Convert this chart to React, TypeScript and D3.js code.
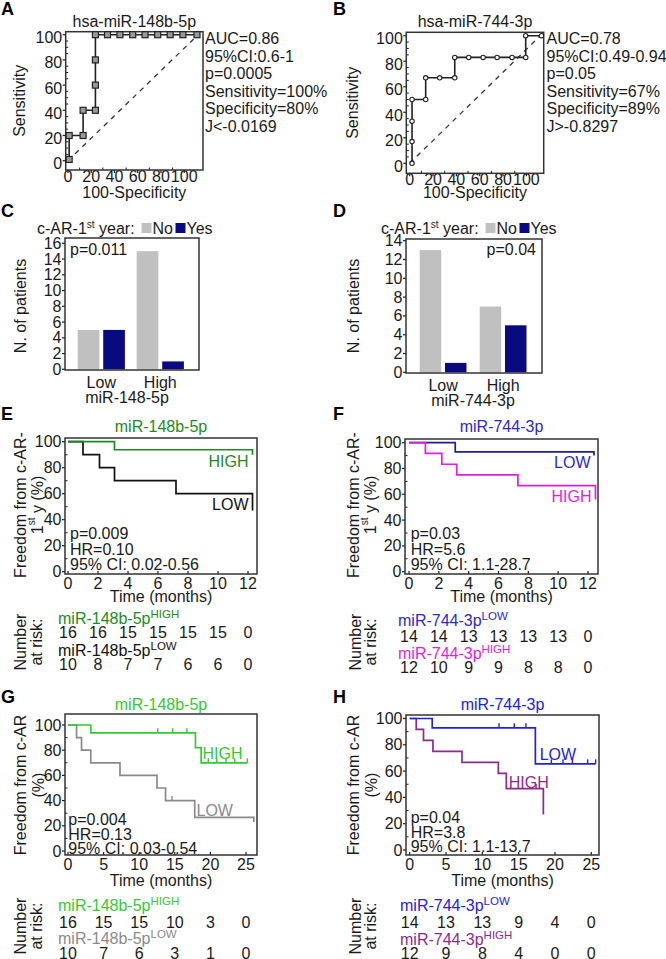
import React from "react";
import * as d3 from "d3";

const FONT = "'Liberation Sans', Arial, Helvetica, sans-serif";
const INK = "#1a1a1a";

// ---------- ROC curves (A, B) ----------
const rocTicks = [0, 20, 40, 60, 80, 100];
const rocMinorY = [5, 10, 15, 25, 30, 35, 45, 50, 55, 65, 70, 75, 85, 90, 95];
const rocMinorX = [10, 30, 50, 70, 90];
const rocDiag = [[0, 0], [112, 100]];
const rocAX = [1, 1, 13, 13, 23.6, 23.6, 23.6, 23.6, 34, 44.7, 55.7, 66.3, 77.2, 87.9, 98.9, 111];
const rocAY = [1, 20, 20, 40, 40, 60, 80, 100, 100, 100, 100, 100, 100, 100, 100, 100];
const rocAStats = ["AUC=0.86", "95%CI:0.6-1", "p=0.0005", "Sensitivity=100%", "Specificity=80%", "J<-0.0169"];
const rocBX = [2, 2, 2, 2, 13.7, 13.7, 25.7, 38.6, 38.6, 50.6, 62.9, 74.9, 87.7, 99.4, 99.4, 112.9];
const rocBY = [0, 17, 33, 50, 50, 67, 67, 67, 83, 83, 83, 83, 83, 83, 100, 100];
const rocBStats = ["AUC=0.78", "95%CI:0.49-0.94", "p=0.05", "Sensitivity=67%", "Specificity=89%", "J>-0.8297"];

// ---------- bar charts (C, D) ----------
const barGroups = ["Low", "High"];
const barKeys = ["No", "Yes"];
const barColors = ["#c0c0c0", "#0a0a80"];
const barCNo = [5, 15];
const barCYes = [5, 1];
const barDNo = [13, 7];
const barDYes = [1, 5];
const barCTicks = [0, 2, 4, 6, 8, 10, 12, 14, 16];
const barDTicks = [0, 2, 4, 6, 8, 10, 12, 14];

// ---------- Kaplan-Meier (E-H) ----------
const kmYTicks = [0, 20, 40, 60, 80, 100];
const kmYMinor = [10, 30, 50, 70, 90];
const kmTicks12 = [0, 2, 4, 6, 8, 10, 12];
const kmTicks25 = [0, 5, 10, 15, 20, 25];

const eHighT = [0, 3.1, 12.3];
const eHighS = [100, 93.8, 90];
const eLowT = [0, 1.0, 2.1, 3.1, 7.2, 12.3];
const eLowS = [100, 90, 80, 70, 60, 47];
const eRiskHigh = [16, 16, 15, 15, 15, 15, 0];
const eRiskLow = [10, 8, 7, 7, 6, 6, 0];

const fLowT = [0, 3.1, 12.4];
const fLowS = [100, 92.9, 90];
const fHighT = [0, 1.1, 2.2, 3.2, 7.3, 12.5];
const fHighS = [100, 91.7, 83.3, 75, 66.7, 56];
const fRiskLow = [14, 14, 13, 13, 13, 13, 0];
const fRiskHigh = [12, 10, 9, 9, 8, 8, 0];

const gHighT = [0, 3.2, 17.9, 18.7, 25.2];
const gHighS = [100, 93.8, 82, 70, 70];
const gHighCens = [12.6, 14.7, 16.7, 19.7, 20.9, 22.2, 23.4, 25.2];
const gLowT = [0, 1.2, 1.9, 3.2, 7.3, 12.5, 13.7, 17.8, 26.1];
const gLowS = [100, 90, 80, 70, 60, 50, 40, 26.7, 23];
const gLowCens = [14.6];
const gRiskHigh = [16, 15, 15, 10, 3, 0];
const gRiskLow = [10, 7, 6, 3, 1, 0];

const hLowT = [0, 3.1, 17.3, 25.6];
const hLowS = [100, 92.9, 65.5, 65.5];
const hLowCens = [12.3, 14.4, 16.0, 19.5, 21.1, 22.4, 24.5, 25.6];
const hHighT = [0, 0.9, 1.9, 3.2, 7.2, 12.2, 13.3, 18.4];
const hHighS = [100, 91.7, 83.3, 75, 66.7, 58.3, 46.7, 27];
const hHighCens = [17.4];
const hRiskLow = [14, 13, 13, 9, 4, 0];
const hRiskHigh = [12, 9, 8, 4, 0, 0];

function Letter({ x, y, c }) {
  return (
    <text x={x} y={y} fontSize={18} fontWeight="bold" fill="#000">
      {c}
    </text>
  );
}

function VLabel({ x, y, children }) {
  return (
    <text x={x} y={y} textAnchor="middle" dominantBaseline="central" transform={`rotate(-90,${x},${y})`}>
      {children}
    </text>
  );
}

function Axes({ f, x, y, xTicks, yTicks, yMinor = [], xMinor = [], yDy = 0, xDy = 13, xInner = false }) {
  return (
    <g>
      {yMinor.map((v) => (
        <line key={"ym" + v} x1={f.l} x2={f.l + 2.5} y1={y(v)} y2={y(v)} stroke={INK} strokeWidth={1} />
      ))}
      {xMinor.map((v) => (
        <line key={"xm" + v} x1={x(v)} x2={x(v)} y1={f.b} y2={f.b - 2.5} stroke={INK} strokeWidth={1} />
      ))}
      {yTicks.map((v) => (
        <g key={"y" + v}>
          <line x1={f.l - 3} x2={f.l} y1={y(v)} y2={y(v)} stroke={INK} strokeWidth={1.2} />
          <text x={f.l - 3.5} y={y(v) + yDy} textAnchor="end" dominantBaseline="central">
            {v}
          </text>
        </g>
      ))}
      {(xTicks || []).map((v) => (
        <g key={"x" + v}>
          <line x1={x(v)} x2={x(v)} y1={f.b} y2={xInner ? f.b - 3 : f.b + 3} stroke={INK} strokeWidth={1.2} />
          <text x={x(v)} y={f.b + xDy} textAnchor="middle">
            {v}
          </text>
        </g>
      ))}
      <rect x={f.l} y={f.t} width={f.r - f.l} height={f.b - f.t} fill="none" stroke="#333" strokeWidth={1.5} />
    </g>
  );
}

function RocPanel({ letter, lx, f, xr, yr, xs, ys, square, title, stats, sx, axisX }) {
  const x = d3.scaleLinear().domain([0, 100]).range(xr);
  const y = d3.scaleLinear().domain([0, 100]).range(yr);
  const pts: [number, number][] = xs.map((v, i) => [x(v), y(ys[i])]);
  const path = d3.line()(pts);
  const diag = d3.line()(rocDiag.map(([a, b]) => [x(a), y(b)] as [number, number]));
  const cx = (f.l + f.r) / 2;
  return (
    <g>
      <Letter x={lx} y={14.5} c={letter} />
      <text x={cx} y={27} textAnchor="middle">{title}</text>
      <path d={diag} stroke="#333" strokeWidth={1.3} strokeDasharray="5,5" fill="none" />
      <Axes f={f} x={x} y={y} xTicks={rocTicks} yTicks={rocTicks} yMinor={rocMinorY} xMinor={rocMinorX} yDy={3} xDy={12} />
      <path d={path} stroke="#222" strokeWidth={1.6} fill="none" />
      {pts.map(([px, py], i) =>
        square ? (
          <rect key={i} x={px - 3} y={py - 3} width={6} height={6} fill="#9a9a9a" stroke="#222" strokeWidth={1.2} />
        ) : (
          <circle key={i} cx={px} cy={py} r={2.2} fill="#fff" stroke="#222" strokeWidth={1.1} />
        )
      )}
      {stats.map((s, i) => (
        <text key={s} x={sx} y={44 + i * 17.5}>{s}</text>
      ))}
      <VLabel x={axisX} y={(f.t + f.b) / 2}>Sensitivity</VLabel>
      <text x={cx} y={198} textAnchor="middle">100-Specificity</text>
    </g>
  );
}

function BarPanel({ letter, lx, f, yr, yMax, ticks, no, yes, band, padIn, name, nameX, pText, pX, pAnchor, legX, axisX }) {
  const y = d3.scaleLinear().domain([0, yMax]).range(yr);
  const x0 = d3.scaleBand().domain(barGroups).range(band).paddingInner(padIn).paddingOuter(0.1);
  const x1 = d3.scaleBand().domain(barKeys).range([0, x0.bandwidth()]).paddingInner(0.15);
  const vals = [no, yes];
  return (
    <g>
      <Letter x={lx} y={217} c={letter} />
      <text x={legX} y={233.5}>
        c-AR-1<tspan dy={-6} fontSize={10}>st</tspan>
        <tspan dy={6}> year:</tspan>
      </text>
      <rect x={legX + 104.5} y={223} width={10} height={10} fill={barColors[0]} />
      <text x={legX + 115.5} y={233.5}>No</text>
      <rect x={legX + 138.5} y={223} width={10} height={10} fill={barColors[1]} />
      <text x={legX + 149.5} y={233.5}>Yes</text>
      {barGroups.map((g, gi) =>
        barKeys.map((k, ki) => (
          <rect
            key={g + k}
            x={(x0(g) as number) + (x1(k) as number)}
            y={y(vals[ki][gi])}
            width={x1.bandwidth()}
            height={y(0) - y(vals[ki][gi])}
            fill={barColors[ki]}
          />
        ))
      )}
      <Axes f={f} x={null} y={y} xTicks={null} yTicks={ticks} />
      {barGroups.map((g) => (
        <text key={g} x={(x0(g) as number) + x0.bandwidth() / 2} y={f.b + 18} textAnchor="middle">{g}</text>
      ))}
      <text x={nameX} y={f.b + 33} textAnchor="middle">{name}</text>
      <text x={pX} y={255} textAnchor={pAnchor}>{pText}</text>
      <VLabel x={axisX} y={306}>N. of patients</VLabel>
    </g>
  );
}

function KmPanel({ letter, lx, ly, f, xMax, xr, yr, xTicks, title, titleColor, titleY, curves, labels, stats, statsX, statsY, yl1, yl2, ylX, ylY, timeY, risk }) {
  const x = d3.scaleLinear().domain([0, xMax]).range(xr);
  const y = d3.scaleLinear().domain([0, 100]).range(yr);
  const step = d3.line().curve(d3.curveStepAfter);
  const cx = (f.l + f.r) / 2;
  return (
    <g>
      <Letter x={lx} y={ly} c={letter} />
      <text x={cx} y={titleY} textAnchor="middle" fill={titleColor}>{title}</text>
      <Axes f={f} x={x} y={y} xTicks={xTicks} yTicks={kmYTicks} yMinor={kmYMinor} xDy={15} xInner={true} />
      {curves.map((c, i) => (
        <g key={i}>
          <path d={step(c.t.map((t, j) => [x(t), y(c.s[j])] as [number, number]))} stroke={c.color} strokeWidth={1.7} fill="none" />
          {(c.cens || []).map((t) => {
            const idx = d3.bisectRight(c.t, t) - 1;
            const sv = c.s[Math.max(0, Math.min(idx, c.s.length - 1))];
            return <line key={t} x1={x(t)} x2={x(t)} y1={y(sv)} y2={y(sv) - 4.5} stroke={c.color} strokeWidth={1.4} />;
          })}
        </g>
      ))}
      {labels.map((l) => (
        <text key={l.text} x={l.x} y={l.y} textAnchor={l.anchor} fill={l.color}>{l.text}</text>
      ))}
      {stats.map((s, i) => (
        <text key={s} x={statsX} y={statsY[i]}>{s}</text>
      ))}
      <VLabel x={ylX[0]} y={ylY}>{yl1}</VLabel>
      <VLabel x={ylX[1]} y={ylY}>{yl2}</VLabel>
      <text x={cx} y={timeY} textAnchor="middle">Time (months)</text>
      <VLabel x={risk.nx[0]} y={risk.ny}>Number</VLabel>
      <VLabel x={risk.nx[1]} y={risk.ny}>at risk:</VLabel>
      {risk.rows.map((r) => (
        <g key={r.sup}>
          <text x={risk.lx} y={r.ly} fill={r.color}>
            {r.name}
            <tspan dy={-6} fontSize={11.5}>{r.sup}</tspan>
          </text>
          {r.values.map((v, j) => (
            <text key={j} x={x(xTicks[j])} y={r.vy} textAnchor="middle">{v}</text>
          ))}
        </g>
      ))}
    </g>
  );
}

const GREEN_E = "#1e8a1e";
const BLUE_T = "#2a2ac4";
const NAVY_L = "#20208f";
const MAGENTA = "#e21de2";
const GREEN_G = "#35c835";
const GRAY_G = "#8a8a8a";
const BLUE_H = "#2222dc";
const PURPLE = "#8b2b8b";

export default function App() {
  return (
    <svg
      width={666}
      height={959}
      style={{ position: "absolute", left: 0, top: 0, background: "#fff" }}
      fontFamily={FONT}
      fontSize={16}
      fill={INK}
    >
      <RocPanel letter="A" lx={1} f={{ l: 65.7, t: 31.7, r: 203, b: 170 }} xr={[68, 184.2]} yr={[160.7, 34.7]}
        xs={rocAX} ys={rocAY} square={true} title="hsa-miR-148b-5p" stats={rocAStats} sx={205} axisX={20} />
      <RocPanel letter="B" lx={333} f={{ l: 406.3, t: 32.3, r: 543.7, b: 173.3 }} xr={[409.7, 526.4]} yr={[163.3, 35.7]}
        xs={rocBX} ys={rocBY} square={false} title="hsa-miR-744-3p" stats={rocBStats} sx={546.5} axisX={353} />

      <BarPanel letter="C" lx={1} f={{ l: 65, t: 238, r: 199, b: 370 }} yr={[369.3, 243.3]} yMax={16} ticks={barCTicks}
        no={barCNo} yes={barCYes} band={[71.8, 189.8]} padIn={0.2} name="miR-148-5p" nameX={127}
        pText="p=0.011" pX={70} pAnchor="start" legX={37} axisX={20} />
      <BarPanel letter="D" lx={333} f={{ l: 406, t: 239, r: 542, b: 373 }} yr={[372.3, 240.7]} yMax={14} ticks={barDTicks}
        no={barDNo} yes={barDYes} band={[413.7, 532.5]} padIn={0.22} name="miR-744-3p" nameX={473}
        pText="p=0.04" pX={536} pAnchor="end" legX={381} axisX={353} />

      <KmPanel letter="E" lx={1} ly={420} f={{ l: 65, t: 438, r: 257, b: 574 }} xMax={12} xr={[68, 248]} yr={[571.7, 441.7]}
        xTicks={kmTicks12} title="miR-148b-5p" titleColor={GREEN_E} titleY={432}
        curves={[
          { t: eLowT, s: eLowS, color: "#111" },
          { t: eHighT, s: eHighS, color: GREEN_E },
        ]}
        labels={[
          { text: "HIGH", x: 248.5, y: 466.5, anchor: "end", color: GREEN_E },
          { text: "LOW", x: 248.5, y: 510, anchor: "end", color: "#111" },
        ]}
        stats={["p=0.009", "HR=0.10", "95% CI: 0.02-0.56"]} statsX={70} statsY={[539, 554.5, 570]}
        yl1="Freedom from c-AR-"
        yl2={<>1<tspan dy={-6} fontSize={10}>st</tspan><tspan dy={6}> y (%)</tspan></>}
        ylX={[20, 37]} ylY={505} timeY={602}
        risk={{
          nx: [20, 36], ny: 642, lx: 58,
          rows: [
            { name: "miR-148b-5p", sup: "HIGH", color: GREEN_E, ly: 624, values: eRiskHigh, vy: 638 },
            { name: "miR-148b-5p", sup: "LOW", color: "#111", ly: 655.5, values: eRiskLow, vy: 670 },
          ],
        }}
      />
      <KmPanel letter="F" lx={333} ly={420} f={{ l: 405, t: 439, r: 598, b: 574 }} xMax={12} xr={[409, 588]} yr={[571.7, 442.7]}
        xTicks={kmTicks12} title="miR-744-3p" titleColor={BLUE_T} titleY={432}
        curves={[
          { t: fLowT, s: fLowS, color: NAVY_L },
          { t: fHighT, s: fHighS, color: MAGENTA },
        ]}
        labels={[
          { text: "LOW", x: 590.5, y: 468, anchor: "end", color: BLUE_T },
          { text: "HIGH", x: 591.5, y: 501.5, anchor: "end", color: MAGENTA },
        ]}
        stats={["p=0.03", "HR=5.6", "95% CI: 1.1-28.7"]} statsX={410.7} statsY={[539, 554.5, 570]}
        yl1="Freedom from c-AR-"
        yl2={<>1<tspan dy={-6} fontSize={10}>st</tspan><tspan dy={6}> y (%)</tspan></>}
        ylX={[353, 370]} ylY={505} timeY={602}
        risk={{
          nx: [355, 370], ny: 642, lx: 398,
          rows: [
            { name: "miR-744-3p", sup: "LOW", color: BLUE_T, ly: 626, values: fRiskLow, vy: 641.5 },
            { name: "miR-744-3p", sup: "HIGH", color: MAGENTA, ly: 659, values: fRiskHigh, vy: 673 },
          ],
        }}
      />
      <KmPanel letter="G" lx={1} ly={703} f={{ l: 65, t: 714, r: 257, b: 855 }} xMax={25} xr={[68, 246]} yr={[851, 725]}
        xTicks={kmTicks25} title="miR-148b-5p" titleColor={GREEN_G} titleY={710}
        curves={[
          { t: gLowT, s: gLowS, color: GRAY_G, cens: gLowCens },
          { t: gHighT, s: gHighS, color: GREEN_G, cens: gHighCens },
        ]}
        labels={[
          { text: "HIGH", x: 202.5, y: 759, anchor: "start", color: GREEN_G },
          { text: "LOW", x: 196.5, y: 816, anchor: "start", color: GRAY_G },
        ]}
        stats={["p=0.004", "HR=0.13", "95% CI: 0.03-0.54"]} statsX={68.3} statsY={[825, 839.5, 854]}
        yl1="Freedom from c-AR" yl2="(%)" ylX={[20, 38]} ylY={785} timeY={886}
        risk={{
          nx: [20, 36], ny: 926, lx: 58,
          rows: [
            { name: "miR-148b-5p", sup: "HIGH", color: GREEN_G, ly: 910.5, values: gRiskHigh, vy: 928 },
            { name: "miR-148b-5p", sup: "LOW", color: GRAY_G, ly: 944, values: gRiskLow, vy: 959 },
          ],
        }}
      />
      <KmPanel letter="H" lx={333} ly={703} f={{ l: 406, t: 715, r: 599, b: 855 }} xMax={25} xr={[409.7, 591.3]} yr={[850, 718.5]}
        xTicks={kmTicks25} title="miR-744-3p" titleColor={BLUE_H} titleY={710}
        curves={[
          { t: hHighT, s: hHighS, color: PURPLE, cens: hHighCens },
          { t: hLowT, s: hLowS, color: BLUE_H, cens: hLowCens },
        ]}
        labels={[
          { text: "LOW", x: 539.7, y: 760, anchor: "start", color: BLUE_H },
          { text: "HIGH", x: 508.7, y: 788, anchor: "start", color: PURPLE },
        ]}
        stats={["p=0.04", "HR=3.8", "95% CI: 1.1-13.7"]} statsX={410.7} statsY={[823, 837.5, 852]}
        yl1="Freedom from c-AR" yl2="(%)" ylX={[353, 371]} ylY={785} timeY={886}
        risk={{
          nx: [355, 370], ny: 926, lx: 400,
          rows: [
            { name: "miR-744-3p", sup: "LOW", color: BLUE_H, ly: 910.5, values: hRiskLow, vy: 928 },
            { name: "miR-744-3p", sup: "HIGH", color: PURPLE, ly: 945, values: hRiskHigh, vy: 959 },
          ],
        }}
      />
    </svg>
  );
}
